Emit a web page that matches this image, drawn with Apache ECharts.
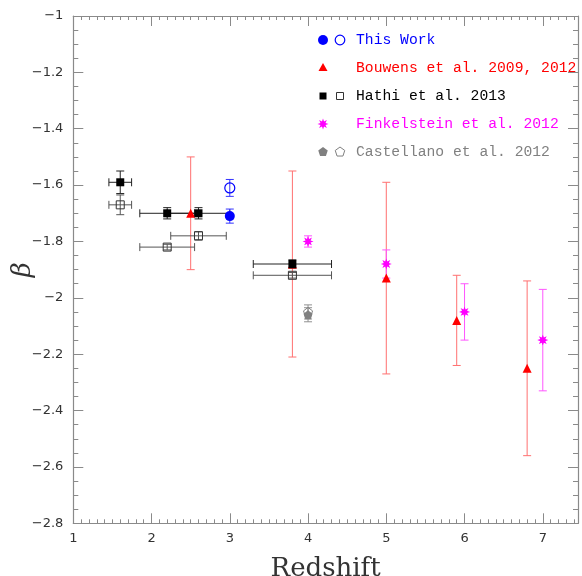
<!DOCTYPE html>
<html>
<head>
<meta charset="utf-8">
<script src="https://cdn.jsdelivr.net/npm/echarts@6/dist/echarts.min.js"></script>
<style>
html,body{margin:0;padding:0;background:#fff;}
#chart{width:582px;height:576px;}
</style>
</head>
<body>
<div id="chart"></div>
<script>
// ---- data ----
const xTicks = [1, 2, 3, 4, 5, 6, 7];
const yTicks = [-1, -1.2, -1.4, -1.6, -1.8, -2, -2.2, -2.4, -2.6, -2.8];

const thisWorkFilledZ = [3.0];
const thisWorkFilledBeta = [-1.71];
const thisWorkFilledErr = [0.025];
const thisWorkOpenZ = [3.0];
const thisWorkOpenBeta = [-1.61];
const thisWorkOpenErr = [0.03];

const bouwensZ = [2.5, 3.8, 5.0, 5.9, 6.8];
const bouwensBeta = [-1.70, -1.88, -1.93, -2.08, -2.25];
const bouwensErr = [0.20, 0.33, 0.34, 0.16, 0.31];

const hathiFilledZ = [1.6, 2.2, 2.6, 3.8];
const hathiFilledBeta = [-1.59, -1.70, -1.70, -1.88];
const hathiFilledZErr = [0.145, 0.35, 0.40, 0.50];
const hathiFilledErr = [0.04, 0.02, 0.02, 0.015];
const hathiOpenZ = [1.6, 2.2, 2.6, 3.8];
const hathiOpenBeta = [-1.67, -1.82, -1.78, -1.92];
const hathiOpenZErr = [0.145, 0.35, 0.355, 0.50];
const hathiOpenErr = [0.035, 0.01, 0.015, 0.01];

const finkelsteinZ = [4.0, 5.0, 6.0, 7.0];
const finkelsteinBeta = [-1.80, -1.88, -2.05, -2.15];
const finkelsteinErr = [0.02, 0.05, 0.10, 0.18];

const castellanoFilledZ = [4.0];
const castellanoFilledBeta = [-2.06];
const castellanoFilledErr = [0.025];
const castellanoOpenZ = [4.0];
const castellanoOpenBeta = [-2.05];
const castellanoOpenErr = [0.025];

const legendLabels = ['This Work', 'Bouwens et al. 2009, 2012', 'Hathi et al. 2013', 'Finkelstein et al. 2012', 'Castellano et al. 2012'];
const xName = 'Redshift';
const yName = 'β';

// ---- styles ----
const BLUE = '#0000ff', RED = '#ff0000', BLACK = '#000000', MAG = '#ff00ff', GRAY = '#808080';
const AXC = '#8a8a8a';

function starPts(cx, cy, R, r, n) {
  const pts = [];
  for (let i = 0; i < 2 * n; i++) {
    const a = Math.PI * i / n - Math.PI / 2;
    const rr = i % 2 === 0 ? R : r;
    pts.push([cx + rr * Math.cos(a), cy + rr * Math.sin(a)]);
  }
  return pts;
}
function polyPts(cx, cy, R, n) {
  const pts = [];
  for (let i = 0; i < n; i++) {
    const a = 2 * Math.PI * i / n - Math.PI / 2;
    pts.push([cx + R * Math.cos(a), cy + R * Math.sin(a)]);
  }
  return pts;
}
function toPath(pts) {
  return 'path://' + pts.map((p, i) => (i ? 'L' : 'M') + p[0].toFixed(3) + ' ' + p[1].toFixed(3)).join(' ') + ' Z';
}
const starPath = toPath(starPts(0, 0, 1, 0.5, 8));
const pentPath = toPath(polyPts(0, 0, 1, 5));

function errSeries(xs, ys, xerr, yerr, color, cap) {
  const data = xs.map((x, i) => [x, ys[i], xerr ? xerr[i] : 0, yerr ? yerr[i] : 0]);
  return {
    type: 'custom', xAxisIndex: 0, yAxisIndex: 0, z: 1, silent: true,
    data: data,
    encode: { x: 0, y: 1 },
    renderItem: function (params, api) {
      const x = api.value(0), y = api.value(1), ex = api.value(2), ey = api.value(3);
      const st = { stroke: color, lineWidth: 1, fill: null };
      const ch = [];
      if (ey > 0) {
        const a = api.coord([x, y + ey]), b = api.coord([x, y - ey]);
        ch.push({ type: 'line', shape: { x1: a[0], y1: a[1], x2: b[0], y2: b[1] }, style: st });
        ch.push({ type: 'line', shape: { x1: a[0] - cap, y1: a[1], x2: a[0] + cap, y2: a[1] }, style: st });
        ch.push({ type: 'line', shape: { x1: b[0] - cap, y1: b[1], x2: b[0] + cap, y2: b[1] }, style: st });
      }
      if (ex > 0) {
        const a = api.coord([x - ex, y]), b = api.coord([x + ex, y]);
        ch.push({ type: 'line', shape: { x1: a[0], y1: a[1], x2: b[0], y2: b[1] }, style: st });
        ch.push({ type: 'line', shape: { x1: a[0], y1: a[1] - cap, x2: a[0], y2: a[1] + cap }, style: st });
        ch.push({ type: 'line', shape: { x1: b[0], y1: b[1] - cap, x2: b[0], y2: b[1] + cap }, style: st });
      }
      return { type: 'group', children: ch };
    }
  };
}
function markSeries(xs, ys, symbol, size, fill, stroke, bw) {
  return {
    type: 'scatter', xAxisIndex: 0, yAxisIndex: 0, z: 3, silent: true,
    data: xs.map((x, i) => [x, ys[i]]),
    symbol: symbol, symbolSize: size,
    itemStyle: { color: fill, borderColor: stroke, borderWidth: bw, opacity: 1 },
    emphasis: { disabled: true }
  };
}

const labelFont = { fontFamily: 'DejaVu Sans', fontSize: 13, color: '#333' };
function fmtNum(v) {
  const a = parseFloat(Math.abs(v).toFixed(2));
  return (v < -1e-9 ? '\u2212' : '') + a;
}
function baseX(pos, interval, len, labels, line) {
  return {
    type: 'value', position: pos, min: 1, max: 7.45, interval: interval,
    axisLine: { show: line, onZero: false, lineStyle: { color: AXC, width: 1.2 } },
    axisTick: { show: true, inside: true, length: len, lineStyle: { color: AXC, width: 1 } },
    axisLabel: labels ? Object.assign({ show: true, margin: 9, showMaxLabel: false,
      formatter: v => (xTicks.indexOf(Math.round(v * 100) / 100) >= 0 ? fmtNum(v) : '') }, labelFont) : { show: false },
    splitLine: { show: false }
  };
}
function baseY(pos, labels) {
  return {
    type: 'value', position: pos, min: -2.8, max: -1, interval: 0.2,
    axisLine: { show: true, onZero: false, lineStyle: { color: AXC, width: 1.2 } },
    axisTick: { show: true, inside: true, length: 10, lineStyle: { color: AXC, width: 1 } },
    minorTick: { show: true, splitNumber: 4, length: 5, lineStyle: { color: AXC, width: 1 } },
    axisLabel: labels ? Object.assign({ show: true, margin: 10,
      formatter: v => (yTicks.some(t => Math.abs(t - v) < 1e-6) ? fmtNum(v) : '') }, labelFont) : { show: false },
    splitLine: { show: false }, minorSplitLine: { show: false }
  };
}

const xAxes = [
  Object.assign(baseX('bottom', 1, 10, true, true), {
    name: xName, nameLocation: 'middle', nameGap: 33, nameMoveOverlap: false,
    nameTextStyle: { fontFamily: 'DejaVu Serif', fontSize: 26, color: '#333' }
  }),
  baseX('bottom', 0.1, 4, false, false),
  baseX('top', 1, 10, false, true),
  baseX('top', 0.1, 4, false, false)
];
const yAxes = [
  Object.assign(baseY('left', true), {
    name: yName, nameLocation: 'middle', nameGap: 37, nameMoveOverlap: false,
    nameTextStyle: { fontFamily: 'DejaVu Serif', fontStyle: 'italic', fontSize: 26, color: '#333' }
  }),
  baseY('right', false)
];

const series = [
  errSeries(bouwensZ, bouwensBeta, null, bouwensErr, '#ff7070', 4),
  errSeries(hathiOpenZ, hathiOpenBeta, hathiOpenZErr, hathiOpenErr, '#555555', 4),
  errSeries(hathiFilledZ, hathiFilledBeta, hathiFilledZErr, hathiFilledErr, '#222222', 4),
  errSeries(finkelsteinZ, finkelsteinBeta, null, finkelsteinErr, '#ff55ff', 4),
  errSeries(castellanoFilledZ, castellanoFilledBeta, null, castellanoFilledErr, '#909090', 4),
  errSeries(castellanoOpenZ, castellanoOpenBeta, null, castellanoOpenErr, '#909090', 4),
  errSeries(thisWorkFilledZ, thisWorkFilledBeta, null, thisWorkFilledErr, '#3333ff', 4),
  errSeries(thisWorkOpenZ, thisWorkOpenBeta, null, thisWorkOpenErr, '#3333ff', 4),
  markSeries(bouwensZ, bouwensBeta, 'triangle', 9, RED, RED, 0),
  markSeries(hathiOpenZ, hathiOpenBeta, 'rect', 8, 'rgba(0,0,0,0)', '#333', 1),
  markSeries(hathiFilledZ, hathiFilledBeta, 'rect', 8, BLACK, BLACK, 0),
  markSeries(finkelsteinZ, finkelsteinBeta, starPath, 11, MAG, MAG, 0),
  markSeries(castellanoFilledZ, castellanoFilledBeta, pentPath, 9, GRAY, GRAY, 0),
  markSeries(castellanoOpenZ, castellanoOpenBeta, pentPath, 9, 'rgba(0,0,0,0)', GRAY, 1),
  markSeries(thisWorkFilledZ, thisWorkFilledBeta, 'circle', 10, BLUE, BLUE, 0),
  markSeries(thisWorkOpenZ, thisWorkOpenBeta, 'circle', 10, 'rgba(0,0,0,0)', BLUE, 1.2)
];

// ---- legend (graphic) ----
const LX1 = 323, LX2 = 340, LTX = 356, LY0 = 40, LDY = 28;
const legendColors = [BLUE, RED, BLACK, MAG, GRAY];
const g = [];
const ly = i => LY0 + i * LDY;
g.push({ type: 'circle', shape: { cx: LX1, cy: ly(0), r: 5 }, style: { fill: BLUE } });
g.push({ type: 'circle', shape: { cx: LX2, cy: ly(0), r: 4.8 }, style: { fill: null, stroke: BLUE, lineWidth: 1.2 } });
g.push({ type: 'polygon', shape: { points: [[LX1, ly(1) - 5], [LX1 + 4.5, ly(1) + 3], [LX1 - 4.5, ly(1) + 3]] }, style: { fill: RED } });
g.push({ type: 'rect', shape: { x: LX1 - 3.5, y: ly(2) - 3.5, width: 7, height: 7 }, style: { fill: BLACK } });
g.push({ type: 'rect', shape: { x: LX2 - 3.5, y: ly(2) - 3.5, width: 7, height: 7 }, style: { fill: null, stroke: '#333', lineWidth: 1 } });
g.push({ type: 'polygon', shape: { points: starPts(LX1, ly(3), 5.5, 2.7, 8) }, style: { fill: MAG } });
g.push({ type: 'polygon', shape: { points: polyPts(LX1, ly(4), 5, 5) }, style: { fill: GRAY } });
g.push({ type: 'polygon', shape: { points: polyPts(LX2, ly(4), 5, 5) }, style: { fill: null, stroke: GRAY, lineWidth: 1 } });
legendLabels.forEach((t, i) => {
  g.push({ type: 'text', x: LTX, y: ly(i), style: { text: t, fill: legendColors[i],
    font: '14.7px "Liberation Mono"', textVerticalAlign: 'middle', textAlign: 'left' } });
});

const chart = echarts.init(document.getElementById('chart'), null, { renderer: 'canvas' });
chart.setOption({
  animation: false,
  backgroundColor: '#fff',
  grid: { left: 73.3, right: 4, top: 16, bottom: 52.7, containLabel: false, outerBoundsMode: 'none' },
  xAxis: xAxes,
  yAxis: yAxes,
  series: series,
  graphic: g
});
</script>
</body>
</html>
